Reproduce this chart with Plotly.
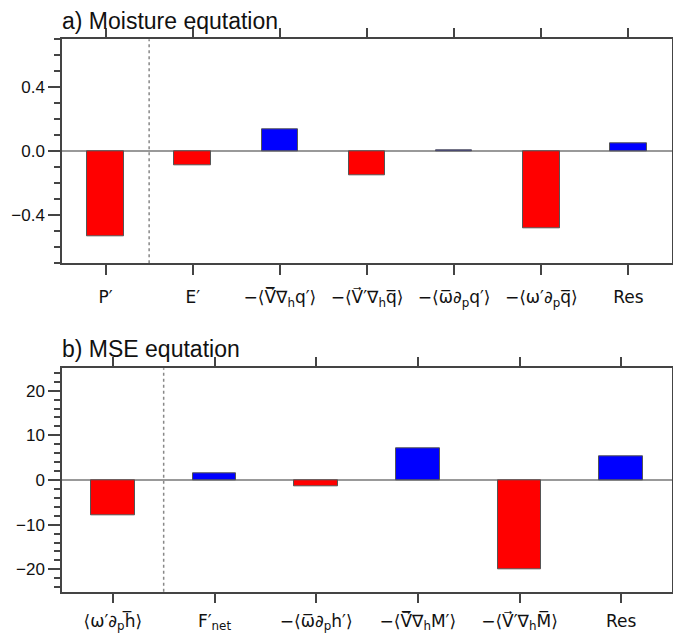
import plotly.graph_objects as go

# ---- data ----
moist_labels = ["P′", "E′",
                "−⟨V̅⃗∇<sub>h</sub>q′⟩",
                "−⟨V⃗′∇<sub>h</sub>q̅⟩",
                "−⟨ω̅∂<sub>p</sub>q′⟩",
                "−⟨ω′∂<sub>p</sub>q̅⟩",
                "Res"]
moist_values = [-0.534, -0.088, 0.136, -0.153, 0.008, -0.481, 0.048]

mse_labels = ["⟨ω′∂<sub>p</sub>h̅⟩",
              "F′<sub>net</sub>",
              "−⟨ω̅∂<sub>p</sub>h′⟩",
              "−⟨V̅⃗∇<sub>h</sub>M′⟩",
              "−⟨V⃗′∇<sub>h</sub>M̅⟩",
              "Res"]
mse_values = [-7.85, 1.6, -1.5, 7.1, -20.0, 5.2]

moist_yticks = [-0.4, 0.0, 0.4]
mse_yticks = [-20, -10, 0, 10, 20]

RED = "#ff0000"
BLUE = "#0000ff"
AX = "#444444"
FONT = "Liberation Sans, Arial, sans-serif"
MFONT = "DejaVu Sans, sans-serif"

def colors(vals):
    return [BLUE if v > 0 else RED for v in vals]

mx = list(range(1, len(moist_values) + 1))
bx = list(range(1, len(mse_values) + 1))

fig = go.Figure()
fig.add_trace(go.Bar(x=mx, y=moist_values, width=0.42,
                     marker=dict(color=colors(moist_values), line=dict(color="#555555", width=1)),
                     xaxis="x", yaxis="y", showlegend=False))
fig.add_trace(go.Bar(x=bx, y=mse_values, width=0.43,
                     marker=dict(color=colors(mse_values), line=dict(color="#555555", width=1)),
                     xaxis="x2", yaxis="y2", showlegend=False))

H = 636.0
dom_a = [1 - 263.3 / H, 1 - 39.3 / H]
dom_b = [1 - 591.7 / H, 1 - 368.3 / H]

xcommon = dict(showline=True, linecolor=AX, linewidth=1.5, mirror="ticks",
               ticks="outside", ticklen=10, tickwidth=1.5, tickcolor=AX,
               showgrid=False, zeroline=False, tickangle=0,
               tickfont=dict(family=MFONT, size=17, color="#111111"))
ycommon = dict(showline=True, linecolor=AX, linewidth=1.5, mirror=True,
               ticks="outside", ticklen=12, tickwidth=1.5, tickcolor=AX,
               showgrid=False, zeroline=True, zerolinecolor="#999999", zerolinewidth=1.5,
               tickfont=dict(family=FONT, size=17, color="#111111"))

fig.update_layout(
    width=673, height=636,
    margin=dict(l=62, r=1, t=0, b=0),
    paper_bgcolor="white", plot_bgcolor="white",
    bargap=0,
    xaxis=dict(domain=[0, 1], anchor="y", range=[0.5, len(mx) + 0.5],
               tickvals=mx, ticktext=moist_labels, ticklabelstandoff=8, **xcommon),
    yaxis=dict(domain=dom_a, anchor="x", range=[-0.7, 0.7],
               tickvals=moist_yticks, tickformat=".1f",
               minor=dict(dtick=0.1, tick0=0, ticks="outside", ticklen=6, tickwidth=1.5,
                          tickcolor=AX, showgrid=False),
               **ycommon),
    xaxis2=dict(domain=[0, 1], anchor="y2", range=[0.5, len(bx) + 0.5],
                tickvals=bx, ticktext=mse_labels, ticklabelstandoff=3, **xcommon),
    yaxis2=dict(domain=dom_b, anchor="x2", range=[-25, 25],
                tickvals=mse_yticks,
                minor=dict(dtick=2, tick0=0, ticks="outside", ticklen=6, tickwidth=1.5,
                           tickcolor=AX, showgrid=False),
                **ycommon),
    shapes=[
        dict(type="line", xref="x", yref="y domain", x0=1.5, x1=1.5, y0=0, y1=1,
             line=dict(color="#888888", width=1.5, dash="dot"), layer="below"),
        dict(type="line", xref="x2", yref="y2 domain", x0=1.5, x1=1.5, y0=0, y1=1,
             line=dict(color="#888888", width=1.5, dash="dot"), layer="below"),
    ],
    annotations=[
        dict(text="a) Moisture equtation", xref="paper", yref="paper",
             x=-0.003, y=1 - 21 / H, xanchor="left", yanchor="middle", showarrow=False,
             font=dict(family=FONT, size=23, color="#111111")),
        dict(text="b) MSE equtation", xref="paper", yref="paper",
             x=-0.003, y=1 - 349 / H, xanchor="left", yanchor="middle", showarrow=False,
             font=dict(family=FONT, size=23, color="#111111")),
    ],
)

fig.write_html("out.html")
